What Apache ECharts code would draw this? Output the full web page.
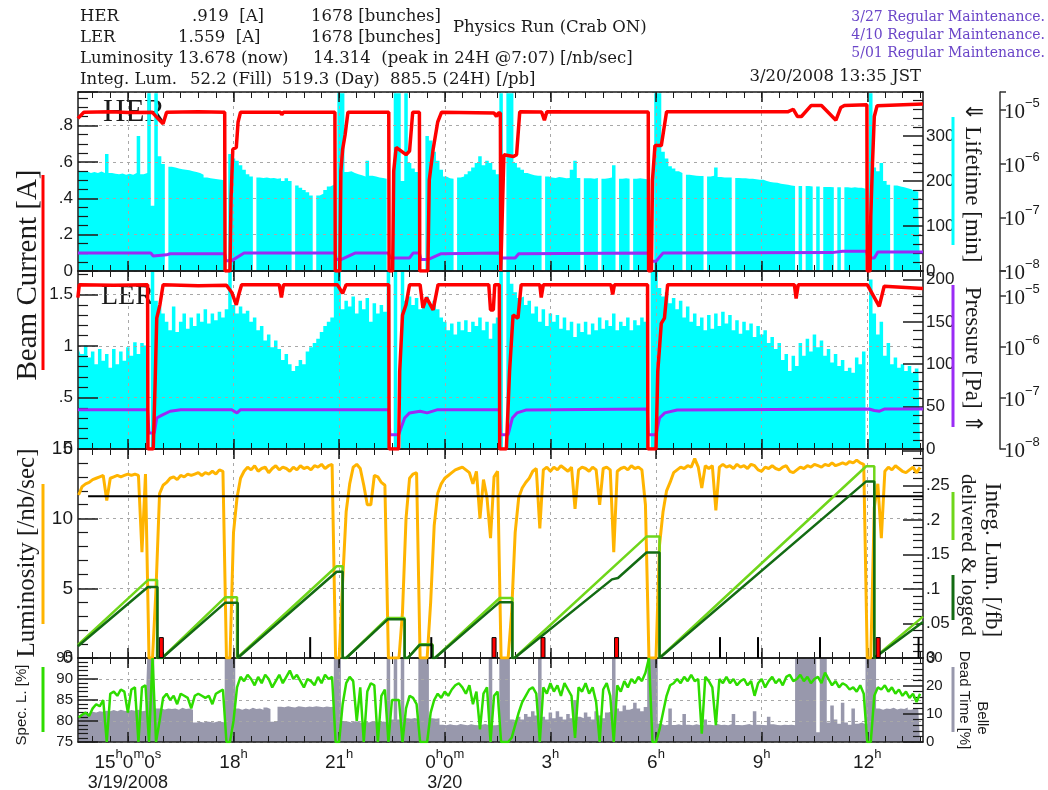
<!DOCTYPE html>
<html>
<head>
<meta charset="utf-8">
<script src="https://cdn.jsdelivr.net/npm/echarts@6/dist/echarts.min.js"></script>
<style>
  html, body { margin: 0; padding: 0; background: #fff; }
  #c { width: 1048px; height: 790px; }
</style>
</head>
<body>
<div id="c"></div>
<script>
// ---- time window (hours since 3/19 00:00) ----
const T0 = 13 + 35 / 60, T1 = 37 + 35 / 60;
const SAMPLE_START = 13.6, SAMPLE_STEP = 0.1;   // 6-minute samples

// ---- x tick labels ----
const majorHours = [15, 18, 21, 24, 27, 30, 33, 36];
const hourTickLabels = ['15|h|0|m|0|s', '18|h', '21|h', '0|h|0|m', '3|h', '6|h', '9|h', '12|h'];
const dateTickLabels = ['3/19/2008', '', '', '3/20', '', '', '', ''];

// ---- HER ----
const herCurrent = [[13.58,0.84],[13.75,0.874],[14.5,0.876],[15.0,0.872],[15.69,0.874],[15.85,0.84],[16.0,0.81],[16.1,0.874],[17.0,0.876],[17.75,0.874],[17.76,0],[17.9,0],[17.93,0.40],[17.98,0.67],[18.08,0.68],[18.13,0.82],[18.2,0.874],[19.33,0.874],[19.37,0.86],[19.42,0.874],[20.88,0.874],[20.89,0],[21.02,0],[21.05,0.55],[21.1,0.67],[21.17,0.75],[21.25,0.874],[22.41,0.874],[22.42,0],[22.52,0],[22.55,0.55],[22.62,0.68],[22.9,0.64],[23.0,0.66],[23.09,0.874],[23.28,0.874],[23.29,0],[23.52,0],[23.56,0.5],[23.67,0.67],[23.8,0.82],[23.91,0.874],[25.4,0.87],[25.47,0.85],[25.52,0.87],[25.58,0.87],[25.59,0],[25.64,0],[25.68,0.64],[25.95,0.63],[26.04,0.64],[26.13,0.876],[26.75,0.875],[26.83,0.83],[26.9,0.876],[29.78,0.875],[29.79,0],[29.87,0],[29.9,0.5],[29.97,0.69],[30.15,0.69],[30.3,0.876],[33.74,0.876],[33.9,0.89],[34.02,0.85],[34.13,0.85],[34.41,0.911],[34.7,0.911],[35.11,0.83],[35.25,0.90],[35.35,0.911],[35.99,0.915],[36.0,0],[36.08,0],[36.1,0.3],[36.15,0.6],[36.2,0.85],[36.28,0.91],[37.583,0.919]];
const herPressure = [[13.58,2.16e-8],[15.65,2.16e-8],[15.72,1.9e-8],[16.1,2.0e-8],[16.2,2.1e-8],[17.75,2.1e-8],[17.78,1.56e-8],[17.95,1.56e-8],[18.3,2.16e-8],[20.88,2.16e-8],[20.92,1.63e-8],[21.05,1.63e-8],[21.45,2.16e-8],[22.4,2.16e-8],[22.45,1.75e-8],[23.0,1.75e-8],[23.1,2.16e-8],[23.28,2.16e-8],[23.32,1.63e-8],[23.52,1.63e-8],[23.9,2.1e-8],[25.58,2.16e-8],[25.62,1.75e-8],[26.0,1.75e-8],[26.1,2.1e-8],[29.78,2.16e-8],[29.82,1.52e-8],[30.0,1.52e-8],[30.2,2.16e-8],[35.0,2.2e-8],[35.3,2.33e-8],[35.98,2.33e-8],[36.02,1.75e-8],[36.2,1.75e-8],[36.3,2.26e-8],[37.583,2.26e-8]];
const herLifetime = [
  225,220,222,218,220,218,221,218,260,218, 216,215,217,214,216,214,218,300,215,218,
  395,145,395,255,238,0,232,230,228,226, 225,224,222,220,218,214,208,206,205,204,
  203,202,0,260,250,245,235,225,215,210, 0,208,207,208,206,207,205,206,200,206,
  200,0,190,185,180,175,168,0,168,172, 180,188,192,0,395,395,220,222,218,215,
  213,210,245,212,210,208,207,205,0,0, 395,395,200,395,240,228,220,0,0,300,
  290,265,245,225,210,206,205,0,208,210, 215,222,230,240,255,235,245,240,225,215,
  395,0,395,395,240,230,225,218,215,213, 212,212,0,210,208,207,209,208,206,207,
  225,245,207,0,206,206,205,207,0,205, 206,208,235,0,205,206,205,0,205,206,
  205,204,0,0,395,395,265,250,233,228, 222,218,0,214,213,212,211,211,0,210,
  212,230,209,208,208,208,0,207,206,206, 205,205,204,203,203,200,198,197,196,194,
  193,192,190,189,0,189,0,189,188,0, 188,0,187,187,186,0,186,0,186,185,
  186,185,185,183,0,395,230,222,240,200, 192,0,190,188,186,184,182,178,176,140
];

// ---- LER ----
const lerCurrent = [[13.58,1.47],[13.62,1.595],[14.6,1.59],[15.56,1.595],[15.57,0],[15.72,0],[15.77,0.59],[15.82,1.27],[15.91,1.40],[16.0,1.595],[17.0,1.585],[17.8,1.59],[17.95,1.52],[18.08,1.40],[18.15,1.5],[18.23,1.595],[19.3,1.595],[19.36,1.47],[19.42,1.595],[20.95,1.595],[21.1,1.51],[21.2,1.595],[22.41,1.595],[22.42,0],[22.69,0],[22.72,0.75],[22.8,1.30],[22.9,1.40],[23.0,1.595],[23.3,1.595],[23.38,1.37],[23.48,1.47],[23.67,1.35],[23.81,1.595],[25.25,1.595],[25.3,1.35],[25.38,1.35],[25.42,1.595],[25.55,1.595],[25.56,0],[25.75,0],[25.84,0.75],[25.94,1.30],[26.08,1.27],[26.17,1.595],[26.7,1.595],[26.74,1.47],[26.8,1.595],[28.72,1.595],[28.77,1.50],[28.82,1.595],[29.76,1.595],[29.77,0],[30.0,0],[30.05,0.75],[30.15,1.22],[30.24,1.27],[30.33,1.595],[33.93,1.595],[33.98,1.46],[34.04,1.595],[36.0,1.595],[36.34,1.385],[36.48,1.58],[37.583,1.559]];
const lerPressure = [[13.58,5.9e-8],[15.56,5.9e-8],[15.6,2.06e-8],[15.75,2.06e-8],[15.82,4.05e-8],[15.97,4.6e-8],[16.2,5.5e-8],[16.5,5.9e-8],[17.95,5.9e-8],[18.1,5.1e-8],[18.2,5.9e-8],[19.35,5.9e-8],[19.4,5.5e-8],[19.45,5.9e-8],[21.05,5.9e-8],[21.1,5.5e-8],[21.2,5.9e-8],[22.41,5.9e-8],[22.44,1.91e-8],[22.69,1.91e-8],[22.86,4.05e-8],[23.0,5.1e-8],[23.3,5.5e-8],[23.5,5.1e-8],[23.8,5.9e-8],[25.55,5.9e-8],[25.58,1.91e-8],[25.8,1.91e-8],[25.92,4.05e-8],[26.05,5.1e-8],[26.3,5.8e-8],[29.75,6.1e-8],[29.78,1.91e-8],[30.0,1.91e-8],[30.1,4.05e-8],[30.25,5.1e-8],[30.6,5.8e-8],[36.05,6.1e-8],[36.2,5.7e-8],[36.35,5.5e-8],[36.5,6.1e-8],[37.583,6.1e-8]];
const lerLifetime = [
  118,112,122,108,115,100,118,104,112,96, 118,100,115,104,120,110,126,112,125,122,
  0,210,175,168,160,150,140,168,138,150, 160,142,155,145,160,150,165,148,160,152,
  162,155,165,210,170,160,168,160,163,150, 155,140,145,128,135,120,128,118,105,112,
  100,92,98,105,100,115,120,125,130,138, 145,150,155,210,210,165,175,168,180,160,
  175,165,178,150,172,160,170,162,210,0, 210,0,210,175,180,170,178,165,172,180,
  170,175,165,155,150,140,148,135,150,140, 152,138,150,145,155,140,150,130,148,155,
  210,0,210,195,185,178,180,170,175,160, 168,150,165,145,160,150,158,142,155,140,
  150,132,148,138,150,135,148,140,155,142, 152,145,160,140,150,145,155,140,152,146,
  155,150,0,210,210,190,180,185,172,178, 165,175,155,168,150,160,145,155,140,158,
  142,160,145,162,148,158,140,152,136,150, 140,148,132,145,135,140,125,132,118,125,
  105,112,92,110,98,125,110,130,115,135, 120,128,110,118,102,112,98,105,92,96,
  90,108,100,115,0,200,160,135,150,110, 125,100,108,96,100,92,98,90,95,100
];

// ---- Luminosity [/nb/sec] ----
const luminosity = [
  11.7,12.3,12.5,12.6,12.8,12.9,13.0,13.1,11.3,12.9, 13.0,13.1,13.0,13.1,13.2,13.1,13.2,13.1,7.6,13.2,
  0,0,5.0,11.8,12.4,12.6,12.9,13.0,12.8,13.1, 13.0,13.2,13.1,13.2,13.3,13.1,13.3,13.2,13.4,13.2,
  13.5,13.4,0,0,9.0,11.5,12.9,13.4,13.7,13.5, 13.8,13.4,13.6,13.7,13.3,13.6,13.8,13.5,13.7,13.6,
  13.4,13.7,13.5,13.8,13.6,13.7,13.5,13.8,13.7,13.9, 13.6,13.8,13.9,0,0,5.5,10.5,12.5,13.7,13.9,
  13.6,12.4,11.0,11.0,13.1,13.0,12.6,12.4,0,0, 0,0,3.3,10.0,12.9,13.2,13.3,0,0,0,
  4.0,9.5,11.8,12.5,12.9,13.1,13.3,13.5,13.6,13.7, 13.5,13.3,12.5,13.4,10.0,12.8,11.5,8.6,13.0,13.4,
  0,0,0,3.3,9.0,11.5,12.2,12.6,12.9,13.4, 13.6,9.3,13.5,13.7,13.4,13.7,13.5,13.8,13.6,13.4,
  13.7,10.7,13.5,13.7,13.6,13.4,13.7,13.5,11.0,13.6, 13.7,13.5,7.6,13.4,13.6,13.7,13.5,13.8,13.6,13.7,
  13.5,11.0,0,0,0,8.1,10.5,12.0,12.6,13.3, 13.5,13.7,13.6,13.8,13.7,14.314,13.7,12.2,13.8,13.6,
  13.8,10.6,13.7,13.9,13.7,13.8,13.6,13.9,13.7,13.8, 13.6,13.9,13.8,13.5,13.4,13.7,13.6,13.8,13.6,13.5,
  13.7,13.8,13.4,13.3,13.5,13.7,13.6,13.8,13.7,13.9, 13.8,13.7,13.9,13.8,14.0,13.8,13.9,14.0,13.9,14.1,
  14.0,14.2,14.0,13.9,0,0,10.8,12.5,8.6,13.4, 13.7,13.5,13.8,13.6,13.4,13.3,13.5,13.7,13.3,13.678
];
const lumiReference = 11.6;
const lumiReferenceFrom = 13.87;

// ---- Integrated luminosity [/fb], per fill ----
const integDelivered = [[13.58,0.019],[15.57,0.113],[15.83,0.113],[15.83,0],[15.97,0],[17.76,0.088],[18.1,0.088],[18.1,0],[18.12,0],[20.93,0.133],[21.1,0.133],[21.1,0],[21.2,0],[22.38,0.058],[22.86,0.058],[22.86,0],[22.95,0],[23.29,0.02],[23.65,0.02],[23.65,0],[23.72,0],[25.56,0.087],[25.92,0.087],[25.92,0],[25.98,0],[29.73,0.176],[30.1,0.176],[30.1,0],[30.15,0],[35.97,0.278],[36.2,0.278],[36.2,0],[36.25,0],[37.583,0.06]];
const integLogged = [[13.58,0.017],[15.57,0.103],[15.84,0.103],[15.84,0],[15.97,0],[17.76,0.080],[18.12,0.080],[18.12,0],[18.13,0],[20.93,0.125],[21.1,0.125],[21.1,0],[21.2,0],[22.38,0.056],[22.86,0.056],[22.86,0],[22.95,0],[23.29,0.019],[23.65,0.019],[23.65,0],[23.72,0],[25.56,0.081],[25.92,0.081],[25.92,0],[25.98,0],[28.75,0.114],[28.92,0.116],[29.73,0.153],[30.1,0.153],[30.1,0],[30.15,0],[35.97,0.256],[36.2,0.256],[36.2,0],[36.25,0],[37.583,0.0522]];

// ---- event flags at the foot of the luminosity panel ----
const flagHeight = 1.5;
const blackFlags = [20.22, 23.66, 31.86, 32.94, 34.7, 37.5];
const redFlags = [15.95, 25.4, 26.79, 28.88, 36.31];

// ---- Belle: specific luminosity [%] and dead time [%] ----
const specLumi = [
  80.8,81.5,82.0,81.2,83.0,84.0,83.5,85.0,75.0,86.5, 87.0,86.0,87.5,87.0,82.0,87.5,88.0,75.0,88.0,88.5,
  75,95,75,80,85.5,86.5,85.0,86.0,84.0,86.5, 86.0,85.5,83.0,86.0,86.5,86.0,85.5,86.0,84.0,86.5,
  87.0,87.5,75,75,80,88.0,90.5,89.5,91.0,90.0, 88.5,90.5,89.0,91.0,90.0,88.0,89.5,91.0,89.0,90.5,
  92.0,90.0,91.0,89.5,88.0,90.0,89.5,88.5,90.5,89.0, 91.0,90.0,90.5,75,75,84.0,89.0,90.5,89.5,80.0,
  88.0,75.0,87.0,89.0,88.5,75,86.0,87.5,75,85.0, 85.0,85.0,75,83.0,86.0,85.5,84.0,75,75,75,
  82.0,85.0,86.5,85.5,87.0,86.0,87.5,88.5,89.0,88.0, 86.5,88.5,84.0,87.0,78.0,86.5,88.0,75.0,86.0,87.0,
  75,75,75,76.0,79.0,82.0,84.5,86.0,87.5,88.0, 86.5,75.0,88.0,86.5,89.0,87.0,88.5,86.0,89.0,87.5,
  86.0,76.0,88.0,87.0,89.0,86.5,88.0,84.5,75.0,87.5, 89.0,86.0,75.0,88.5,87.0,89.5,88.0,90.0,89.0,90.5,
  89.5,91.5,95,75,75,78.0,82.0,86.0,88.5,89.0, 90.0,89.0,90.5,89.5,91.0,89.5,90.0,77.0,90.5,89.5,
  88.0,79.0,90.0,89.0,90.5,89.0,90.0,88.5,89.5,90.0, 88.5,89.5,86.0,89.0,90.0,88.0,89.5,90.5,89.0,90.0,
  88.5,90.5,91.0,89.5,90.0,91.0,89.5,90.5,89.0,90.0, 90.5,89.0,91.5,90.0,88.5,89.5,88.0,89.0,88.5,87.5,
  88.0,87.0,88.5,86.5,75,75,86.0,88.0,87.5,88.5, 87.0,88.0,86.5,87.5,86.0,87.0,85.5,86.5,84.5,86.5
];
const deadTime = [
  9.5,10.0,10.5,10.2,10.8,10.5,11.0,10.8,11.2,11.0, 11.4,11.0,11.5,11.2,11.0,11.4,11.2,11.5,11.0,11.2,
  30,30,12.0,12.0,11.6,12.0,11.8,12.0,11.5,12.2, 11.8,12.0,11.5,7.0,7.2,7.0,7.3,7.1,7.0,7.3,
  7.2,7.0,30,30,30,12.0,11.5,12.0,11.6,12.2, 11.8,12.0,11.5,12.3,11.8,7.2,7.5,12.6,12.4,12.8,
  12.5,12.3,12.8,12.6,12.4,12.7,12.5,12.8,12.6,12.4, 12.7,12.5,12.6,30,30,7.5,7.3,7.0,7.4,7.2,
  6.8,7.3,7.0,7.5,7.2,7.0,7.3,7.1,30,8.0, 30,8.0,30,8.5,8.3,8.6,8.2,30,30,30,
  8.5,8.3,8.5,6.2,6.0,6.3,6.1,6.0,6.4,6.2, 6.0,6.3,6.1,6.0,6.2,6.4,6.1,30,6.0,6.2,
  30,30,30,8.0,7.5,9.0,8.0,10.0,9.0,11.0, 9.5,30,9.0,8.0,10.5,8.5,11.0,9.0,8.0,10.0,
  8.5,15.0,9.0,8.5,10.5,9.0,8.0,11.0,9.5,8.5, 10.5,11.0,30,12.0,11.0,13.0,11.5,12.0,14.0,12.0,
  11.0,12.5,30,30,30,6.5,6.0,6.2,12.0,6.1, 6.3,6.0,10.0,6.2,6.0,6.3,6.1,6.0,8.0,6.2,
  6.0,6.4,6.1,6.2,6.0,6.3,10.0,6.1,6.0,6.2, 6.4,6.0,11.0,6.2,6.1,6.0,9.0,6.3,6.1,6.0,
  6.2,6.1,6.2,6.0,30,30,30,30,30,30, 3.5,30,30,7.0,13.0,8.0,6.5,14.0,7.0,6.2,
  12.0,6.5,7.0,6.3,30,30,30,12.0,11.5,12.0, 11.8,12.2,11.6,12.0,11.8,12.3,11.5,12.0,11.7,12.0
];

// ---------------------------------------------------------------------------
const SANS = '"Liberation Sans", Arial, sans-serif';
const SERIF = '"Liberation Serif", "Times New Roman", serif';
const HEAD = '"DejaVu Serif", serif';
const INK = '#1a1a1a';

const sampled = arr => arr.map((v, i) => [+(SAMPLE_START + i * SAMPLE_STEP).toFixed(2), v]);
const minorHours = [];
for (let h = 14; h <= 37.5; h += 0.5) minorHours.push(h);

const gridTop = [92, 271, 449, 658];
const gridHeight = [179, 178, 209, 84];
const grids = gridTop.map((t, i) => ({ left: 78, right: 125, top: t, height: gridHeight[i], outerBoundsMode: 'none', containLabel: false }));

function tickFmt(step, hideAbove) {
  return v => {
    if (Math.abs(v / step - Math.round(v / step)) > 1e-6) return '';
    if (hideAbove !== undefined && v > hideAbove + 1e-9) return '';
    return String(+v.toFixed(4)).replace(/^0\./, '.');
  };
}
function logFmt(v) {
  const e = Math.log10(v);
  if (Math.abs(e - Math.round(e)) > 1e-6) return '';
  return '{b|10}{e|\u2212' + (-Math.round(e)) + '}';
}
function hourFmt(v) {
  const k = majorHours.findIndex(h => Math.abs(h - v) < 1e-6);
  if (k < 0) return '';
  const parts = hourTickLabels[k].split('|');
  let s = parts.map((p, j) => (j % 2 ? '{s|' + p + '}' : '{n|' + p + '}')).join('');
  if (dateTickLabels[k]) s += '\n{d|' + dateTickLabels[k] + '}';
  return s;
}

const axisInk = { color: INK, width: 1.5 };
const xAxes = [];
for (let g = 0; g < 4; g++) {
  const base = { type: 'value', gridIndex: g, min: T0, max: T1, z: 2 };
  xAxes.push(Object.assign({}, base, {
    position: 'bottom',
    axisLine: { show: true, onZero: false, lineStyle: axisInk },
    axisTick: { show: true, inside: true, length: 10, customValues: majorHours, lineStyle: axisInk },
    axisLabel: g === 3 ? {
      show: true, customValues: majorHours, margin: 6, formatter: hourFmt,
      rich: {
        n: { fontFamily: SANS, fontSize: 19, color: INK, lineHeight: 24, verticalAlign: 'bottom' },
        s: { fontFamily: SANS, fontSize: 13, color: INK, lineHeight: 24, verticalAlign: 'top' },
        d: { fontFamily: SANS, fontSize: 18, color: INK, lineHeight: 22 }
      }
    } : { show: false },
    splitLine: { show: true, lineStyle: { color: '#a8a8a8', width: 1, type: [3, 4] } }
  }));
  xAxes.push(Object.assign({}, base, {
    position: 'bottom', axisLine: { show: false, onZero: false },
    axisTick: { show: true, inside: true, length: 6, customValues: minorHours, lineStyle: { color: INK, width: 1 } },
    axisLabel: { show: false }, splitLine: { show: false }
  }));
  xAxes.push(Object.assign({}, base, {
    position: 'top', axisLine: { show: true, onZero: false, lineStyle: axisInk },
    axisTick: { show: true, inside: true, length: 10, customValues: majorHours, lineStyle: axisInk },
    axisLabel: { show: false }, splitLine: { show: false }
  }));
  xAxes.push(Object.assign({}, base, {
    position: 'top', axisLine: { show: false, onZero: false },
    axisTick: { show: true, inside: true, length: 6, customValues: minorHours, lineStyle: { color: INK, width: 1 } },
    axisLabel: { show: false }, splitLine: { show: false }
  }));
}

function valueAxis(o) {
  return {
    type: 'value', gridIndex: o.grid, position: o.pos, min: o.min, max: o.max, interval: o.step, z: 2,
    axisLine: { show: true, onZero: false, lineStyle: axisInk },
    axisTick: { show: true, inside: true, length: 20, lineStyle: axisInk },
    minorTick: { show: true, splitNumber: o.minor, length: 10, lineStyle: { color: INK, width: 1.2 } },
    axisLabel: { show: true, margin: o.pos === 'left' ? 5 : 3, fontFamily: SANS, fontSize: o.fs || 17, color: INK, formatter: tickFmt(o.step, o.hideAbove) },
    splitLine: { show: !!o.split, lineStyle: { color: '#a8a8a8', width: 1, type: [3, 4] } },
    minorSplitLine: { show: false }
  };
}
function logAxis(grid, max) {
  return {
    type: 'log', gridIndex: grid, position: 'right', offset: 77, min: 1e-8, max: max, logBase: 10, z: 2,
    axisLine: { show: true, onZero: false, lineStyle: { color: '#333', width: 1.5 } },
    axisTick: { show: true, inside: false, length: 6, lineStyle: { color: '#333', width: 1.5 } },
    minorTick: { show: false },
    axisLabel: {
      show: true, margin: 4, formatter: logFmt,
      rich: {
        b: { fontFamily: SERIF, fontSize: 21, color: INK, lineHeight: 26, verticalAlign: 'bottom' },
        e: { fontFamily: SANS, fontSize: 13, color: INK, lineHeight: 26, verticalAlign: 'top' }
      }
    },
    splitLine: { show: false }
  };
}

const yAxes = [
  valueAxis({ grid: 0, pos: 'left', min: 0, max: 0.985, step: 0.2, minor: 4, split: true, hideAbove: 0.9 }),  // 0 HER current
  valueAxis({ grid: 0, pos: 'right', min: 0, max: 398, step: 100, minor: 5, hideAbove: 350 }),              // 1 HER lifetime
  logAxis(0, 2.16e-5),                                                                                          // 2 HER pressure
  valueAxis({ grid: 1, pos: 'left', min: 0, max: 1.728, step: 0.5, minor: 5, split: true }),                  // 3 LER current
  valueAxis({ grid: 1, pos: 'right', min: 0, max: 210, step: 50, minor: 5 }),                                 // 4 LER lifetime
  logAxis(1, 3.09e-5),                                                                                          // 5 LER pressure
  valueAxis({ grid: 2, pos: 'left', min: 0, max: 15, step: 5, minor: 5, split: true, fs: 19 }),               // 6 luminosity
  valueAxis({ grid: 2, pos: 'right', min: 0, max: 0.303, step: 0.05, minor: 5, hideAbove: 0.26 }),            // 7 integrated
  valueAxis({ grid: 3, pos: 'left', min: 75, max: 95, step: 5, minor: 5, split: true, fs: 15 }),              // 8 spec. lumi
  valueAxis({ grid: 3, pos: 'right', min: 0, max: 30, step: 10, minor: 5, fs: 15 })                           // 9 dead time
];

const lineBase = { type: 'line', symbol: 'none', showSymbol: false, animation: false, clip: true, silent: true };
const series = [
  Object.assign({}, lineBase, { name: 'HER lifetime', xAxisIndex: 0, yAxisIndex: 1, step: 'middle', z: 1,
    data: sampled(herLifetime), lineStyle: { width: 0, color: '#00ffff' }, areaStyle: { color: '#00ffff', opacity: 1 } }),
  Object.assign({}, lineBase, { name: 'HER pressure', xAxisIndex: 0, yAxisIndex: 2, z: 3,
    data: herPressure, lineStyle: { width: 3, color: '#9a2cf5' } }),
  Object.assign({}, lineBase, { name: 'HER current', xAxisIndex: 0, yAxisIndex: 0, z: 4,
    data: herCurrent, lineStyle: { width: 3.5, color: '#ff0000' } }),

  Object.assign({}, lineBase, { name: 'LER lifetime', xAxisIndex: 4, yAxisIndex: 4, step: 'middle', z: 1,
    data: sampled(lerLifetime), lineStyle: { width: 0, color: '#00ffff' }, areaStyle: { color: '#00ffff', opacity: 1 } }),
  Object.assign({}, lineBase, { name: 'LER pressure', xAxisIndex: 4, yAxisIndex: 5, z: 3,
    data: lerPressure, lineStyle: { width: 3, color: '#9a2cf5' } }),
  Object.assign({}, lineBase, { name: 'LER current', xAxisIndex: 4, yAxisIndex: 3, z: 4,
    data: lerCurrent, lineStyle: { width: 3.5, color: '#ff0000' } }),

  Object.assign({}, lineBase, { name: 'Luminosity', xAxisIndex: 8, yAxisIndex: 6, z: 3,
    data: sampled(luminosity), lineStyle: { width: 3, color: '#ffb400' } }),
  Object.assign({}, lineBase, { name: 'Reference', xAxisIndex: 8, yAxisIndex: 6, z: 4,
    data: [[lumiReferenceFrom, lumiReference], [T1, lumiReference]], lineStyle: { width: 2, color: '#000' } }),
  Object.assign({}, lineBase, { name: 'Delivered', xAxisIndex: 8, yAxisIndex: 7, z: 4,
    data: integDelivered, lineStyle: { width: 2.5, color: '#6fd61a' } }),
  Object.assign({}, lineBase, { name: 'Logged', xAxisIndex: 8, yAxisIndex: 7, z: 5,
    data: integLogged, lineStyle: { width: 2.5, color: '#136b13' } }),
  { type: 'bar', name: 'Flag', xAxisIndex: 8, yAxisIndex: 6, z: 6, barWidth: 2, animation: false, silent: true,
    data: blackFlags.map(h => [h, flagHeight]), itemStyle: { color: '#000' } },
  { type: 'bar', name: 'Flag (abort)', xAxisIndex: 8, yAxisIndex: 6, z: 6, barWidth: 5, barGap: '-100%', animation: false, silent: true,
    data: redFlags.map(h => [h, flagHeight]), itemStyle: { color: '#ff0000', borderColor: '#000', borderWidth: 1 } },

  Object.assign({}, lineBase, { name: 'Dead time', xAxisIndex: 12, yAxisIndex: 9, step: 'middle', z: 1,
    data: sampled(deadTime), lineStyle: { width: 0, color: '#9898ac' }, areaStyle: { color: '#9898ac', opacity: 1 } }),
  Object.assign({}, lineBase, { name: 'Spec. L.', xAxisIndex: 12, yAxisIndex: 8, z: 3,
    data: sampled(specLumi), lineStyle: { width: 2.5, color: '#2edc00' } })
];

// ---- titles, legends and axis names ----
function txt(x, y, s, font, opts) {
  opts = opts || {};
  return {
    type: 'text', x: x, y: y, rotation: opts.rot || 0, z: opts.z || 10, silent: true,
    style: {
      text: s, font: font, fill: opts.color || INK,
      align: opts.align || 'left', verticalAlign: 'middle',
      textAlign: opts.align || 'left', textVerticalAlign: 'middle'
    }
  };
}
function bar(x, y1, y2, color) {
  return { type: 'line', z: 10, silent: true, shape: { x1: x, y1: y1, x2: x, y2: y2 }, style: { stroke: color, lineWidth: 3 } };
}
const HF = '16.5px ' + HEAD;
const PURPLE_TXT = '#6a45c8';
const graphics = [
  txt(80, 17, 'HER', HF), txt(192, 17, '.919  [A]', HF), txt(311, 17, '1678 [bunches]', HF),
  txt(453, 28, 'Physics Run (Crab ON)', HF),
  txt(80, 38, 'LER', HF), txt(178, 38, '1.559  [A]', HF), txt(311, 38, '1678 [bunches]', HF),
  txt(80, 59, 'Luminosity 13.678 (now)', HF), txt(313, 59, '14.314  (peak in 24H @7:07) [/nb/sec]', HF),
  txt(80, 80, 'Integ. Lum.', HF), txt(190, 80, '52.2 (Fill)', HF), txt(282, 80, '519.3 (Day)', HF), txt(390, 80, '885.5 (24H) [/pb]', HF),
  txt(921, 77, '3/20/2008 13:35 JST', HF, { align: 'right' }),
  txt(1045, 17, '3/27 Regular Maintenance.', '14px ' + HEAD, { align: 'right', color: PURPLE_TXT }),
  txt(1045, 35, '4/10 Regular Maintenance.', '14px ' + HEAD, { align: 'right', color: PURPLE_TXT }),
  txt(1045, 53, '5/01 Regular Maintenance.', '14px ' + HEAD, { align: 'right', color: PURPLE_TXT }),

  txt(103, 113, 'HER', '31px ' + SERIF, { z: 1 }),
  txt(101, 297, 'LER', '28px ' + SERIF, { z: 1 }),

  txt(28, 275, 'Beam Current [A]', '29px ' + SERIF, { rot: Math.PI / 2, align: 'center' }),
  bar(43, 175, 370, '#ff0000'),
  txt(27, 553, 'Luminosity [/nb/sec]', '25px ' + SERIF, { rot: Math.PI / 2, align: 'center' }),
  bar(43, 484, 624, '#ffb400'),
  txt(22, 705, 'Spec. L. [%]', '15px ' + SANS, { rot: Math.PI / 2, align: 'center' }),
  bar(43, 667, 732, '#2edc00'),

  txt(972, 182, '\u21d3 Lifetime [min]', '23px ' + SERIF, { rot: -Math.PI / 2, align: 'center' }),
  bar(953, 117, 245, '#00ffff'),
  txt(972, 360, 'Pressure [Pa] \u21d1', '23px ' + SERIF, { rot: -Math.PI / 2, align: 'center' }),
  bar(953, 285, 427, '#9a2cf5'),
  txt(992, 560, 'Integ. Lum. [/fb]', '23px ' + SERIF, { rot: -Math.PI / 2, align: 'center' }),
  txt(968, 555, 'delivered & logged', '21px ' + SERIF, { rot: -Math.PI / 2, align: 'center' }),
  bar(953, 492, 540, '#6fd61a'),
  bar(953, 575, 620, '#136b13'),
  txt(964, 700, 'Dead Time [%]', '15px ' + SANS, { rot: -Math.PI / 2, align: 'center' }),
  txt(982, 718, 'Belle', '15px ' + SANS, { rot: -Math.PI / 2, align: 'center' }),
  bar(953, 667, 732, '#9898ac')
];

const chart = echarts.init(document.getElementById('c'), null, { renderer: 'canvas', width: 1048, height: 790 });
chart.setOption({
  animation: false,
  backgroundColor: '#ffffff',
  grid: grids,
  xAxis: xAxes,
  yAxis: yAxes,
  series: series,
  graphic: { elements: graphics }
});
</script>
</body>
</html>
